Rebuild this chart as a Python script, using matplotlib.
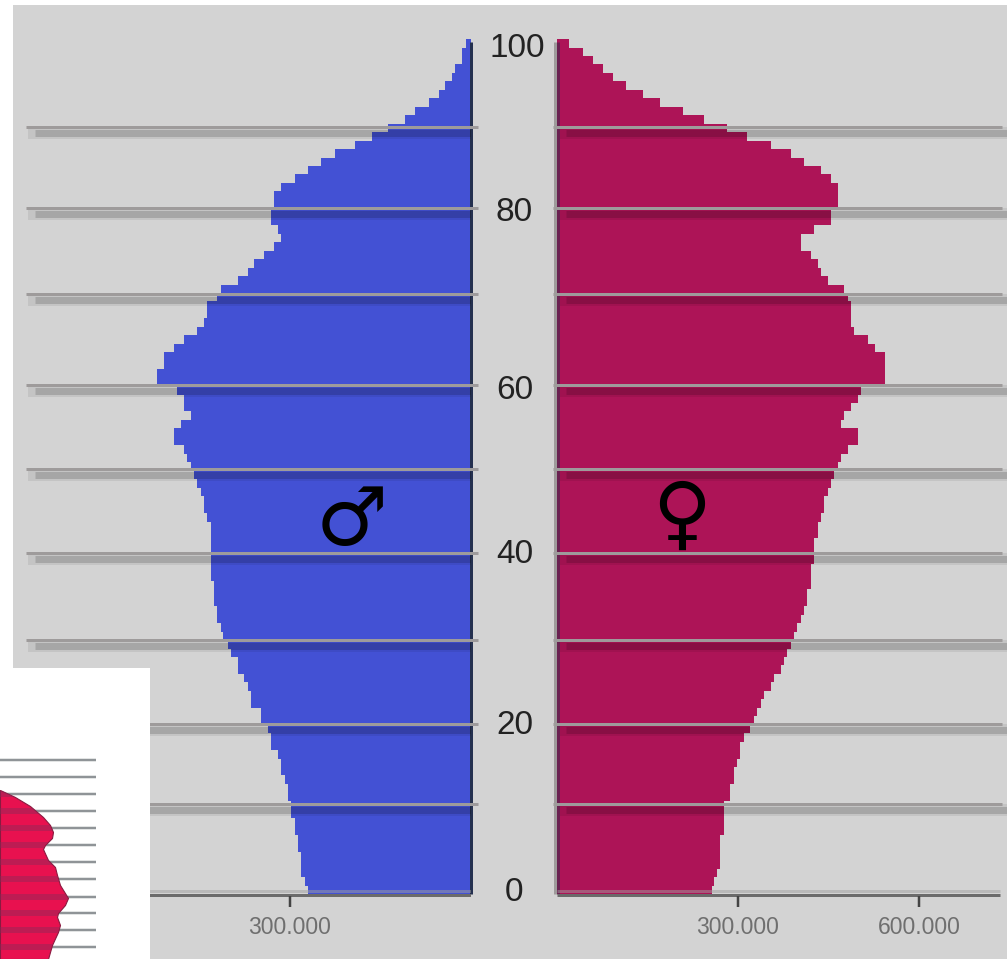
#!/usr/bin/env python3
import numpy as np
import matplotlib
matplotlib.use('Agg')
import matplotlib.pyplot as plt
from matplotlib.patches import Rectangle
from matplotlib.transforms import blended_transform_factory

# thousands of people per age, from age 100 down to age 0
ages = list(range(100, -1, -1))
male = [8, 15, 15, 27, 31, 43, 53, 70, 93, 109,
        138, 164, 192, 225, 249, 270, 292, 315, 327, 327,
        331, 331, 320, 315, 327, 343, 360, 370, 386, 414,
        421, 438, 438, 443, 454, 476, 492, 509, 509, 520,
        520, 487, 476, 476, 464, 481, 492, 492, 476, 471,
        464, 459, 454, 448, 443, 443, 438, 431, 431, 431,
        431, 431, 431, 431, 426, 426, 426, 421, 421, 414,
        411, 403, 398, 386, 386, 376, 370, 365, 365, 348,
        348, 336, 331, 331, 320, 315, 315, 308, 303, 303,
        298, 298, 292, 292, 287, 287, 282, 282, 282, 275, 270]
female = [20, 43, 60, 76, 93, 114, 143, 171, 209, 244,
          282, 315, 355, 388, 409, 438, 454, 466, 466, 466,
          454, 454, 426, 404, 404, 421, 433, 438, 449, 476,
          482, 487, 487, 487, 492, 515, 527, 544, 544, 544,
          544, 504, 499, 487, 476, 471, 499, 499, 482, 471,
          466, 459, 454, 449, 443, 443, 438, 433, 433, 426,
          426, 426, 421, 421, 421, 414, 414, 409, 404, 398,
          393, 388, 381, 376, 371, 360, 355, 343, 338, 331,
          327, 320, 310, 303, 303, 298, 293, 293, 287, 287,
          277, 277, 277, 277, 270, 270, 270, 270, 265, 260, 257]

# the picture was pasted together, so lines and labels sit a bit off the even ages
grid_ages = [10.63, 20.08, 30.0, 40.28, 50.2, 60.13, 70.88, 81.04, 90.6]
age_labels = ['0', '20', '40', '60', '80', '100']
age_label_pos = [0.2, 19.85, 40.15, 59.5, 80.55, 99.85]
male_ticks = [300]
female_ticks = [300, 600]

# small pyramid in the white corner
inset_edge = [0, 15, 30, 43, 50, 53, 52, 45, 43, 48, 55, 57, 60, 68, 65, 58, 57, 60, 58, 52, 48]
inset_y = [790, 797, 806, 817, 825, 832, 838, 845, 849, 860, 867, 875, 885, 898, 905, 913, 917, 925, 932, 945, 959]
inset_grid = [760, 777, 794, 811, 828, 845, 862, 879, 897, 913, 930, 947]

W, H = 1007, 959
PX = 0.6033   # pixels per thousand
ROW = 8.465   # pixels per year
Y0 = 894
BG = '#d3d3d3'
BLUE = '#4351d4'
MAGENTA = '#ad1457'
LINE = '#9e9b9b'

fig = plt.figure(figsize=(W / 100, H / 100), dpi=100, facecolor='white')
fig.patches.append(Rectangle((13 / W, 0), 1 - 13 / W, 1 - 5 / H, transform=fig.transFigure,
                             facecolor=BG, edgecolor='none', zorder=-1))

ax_m = fig.add_axes([0, 0, 471 / W, 1])
ax_f = fig.add_axes([557 / W, 0, (W - 557) / W, 1])
ylim = ((Y0 - H) / ROW, Y0 / ROW)
ax_m.set_xlim(471 / PX, 0)
ax_f.set_xlim(0, (W - 557) / PX)
for ax in (ax_m, ax_f):
    ax.set_ylim(*ylim)
    ax.axis('off')

ax_m.barh(ages, male, height=1, align='edge', color=BLUE, edgecolor='none', antialiased=False, zorder=2)
ax_f.barh(ages, female, height=1, align='edge', color=MAGENTA, edgecolor='none', antialiased=False, zorder=2)


def px(n):
    return n / PX


def lw(n):
    return n * 0.72


# axis lines
ax_m.plot([px(0.5)] * 2, [0, 100.6], color='#24304f', lw=lw(3), solid_capstyle='butt', zorder=3, clip_on=False)
ax_f.plot([px(-2.5)] * 2, [0, 100.6], color=LINE, lw=lw(3), solid_capstyle='butt', zorder=3, clip_on=False)
ax_f.plot([px(0.8)] * 2, [0, 100.6], color='#6a2050', lw=lw(3), solid_capstyle='butt', zorder=3)

# grid lines with their soft shadow underneath
for g in grid_ages:
    ax_m.plot([px(443), px(-7)], [g - 0.75] * 2, color='black', alpha=0.07, lw=lw(12), solid_capstyle='butt', zorder=4)
    ax_m.plot([px(436), px(-7)], [g - 0.75] * 2, color='black', alpha=0.15, lw=lw(7), solid_capstyle='butt', zorder=4)
    ax_f.plot([px(3), px(450)], [g - 0.75] * 2, color='black', alpha=0.07, lw=lw(12), solid_capstyle='butt', zorder=4)
    ax_f.plot([px(9), px(450)], [g - 0.75] * 2, color='black', alpha=0.15, lw=lw(7), solid_capstyle='butt', zorder=4)
    ax_m.plot([px(445), px(-7)], [g, g], color=LINE, lw=lw(3), solid_capstyle='butt', zorder=5, clip_on=False)
    ax_f.plot([px(-4), px(445)], [g, g], color=LINE, lw=lw(3), solid_capstyle='butt', zorder=5, clip_on=False)

# baseline and ticks
ax_m.plot([px(471), 0], [0.3, 0.3], color='#a0a0a0', alpha=0.5, lw=lw(3), solid_capstyle='butt', zorder=5)
ax_f.plot([0, px(443)], [0.3, 0.3], color='#a0a0a0', alpha=0.5, lw=lw(3), solid_capstyle='butt', zorder=5)
ax_m.plot([px(471), 0], [-0.1, -0.1], color='#6b6b6b', lw=lw(3), solid_capstyle='butt', zorder=6)
ax_f.plot([0, px(443)], [-0.1, -0.1], color='#6b6b6b', lw=lw(3), solid_capstyle='butt', zorder=6)

tick_font = ['Liberation Sans', 'DejaVu Sans']
for ax, ticks in ((ax_m, male_ticks), (ax_f, female_ticks)):
    for t in ticks:
        ax.plot([t, t], [-0.2, -1.5], color='#444444', lw=lw(2.5), solid_capstyle='butt', zorder=6)
        ax.text(t, -3.9, '%d.000' % t, ha='center', va='center', fontsize=16.5, color='#5e5e5e',
                family=tick_font, alpha=0.85)

# age labels in the gap
tr = blended_transform_factory(fig.transFigure, ax_m.transData)
for lab, pos in zip(age_labels, age_label_pos):
    x = 517 if lab == '100' else 514.5
    ax_m.text(x / W, pos, lab, transform=tr, ha='center', va='center', fontsize=24, color='#222222',
              family=tick_font, clip_on=False, zorder=7)

# sex symbols
fig.text(352 / W, 1 - 523 / H, '\u2642', ha='center', va='center', fontsize=58, color='black',
         family='DejaVu Sans', zorder=8)
fig.text(682 / W, 1 - 518 / H, '\u2640', ha='center', va='center', fontsize=58, color='black',
         family='DejaVu Sans', zorder=8)

# white corner with the small red pyramid
ax_i = fig.add_axes([0, 0, 150 / W, (H - 668) / H], zorder=5, facecolor='white')
ax_i.set_xlim(0, 150)
ax_i.set_ylim(H, 668)
ax_i.set_xticks([])
ax_i.set_yticks([])
for s in ax_i.spines.values():
    s.set_visible(False)
ax_i.hlines(inset_grid, 0, 96, color='#8f9497', lw=lw(2.5), zorder=1)
poly = ax_i.fill_betweenx(inset_y, 0, inset_edge, color='#e8114f', edgecolor='#8a1a40', lw=0.8, zorder=2)
bands = ax_i.hlines(inset_grid, 0, 96, color='#8a2a5a', alpha=0.45, lw=lw(6), zorder=3)
bands.set_clip_path(poly.get_paths()[0], poly.get_transform())

fig.savefig('out.png', dpi=100, facecolor='white')
